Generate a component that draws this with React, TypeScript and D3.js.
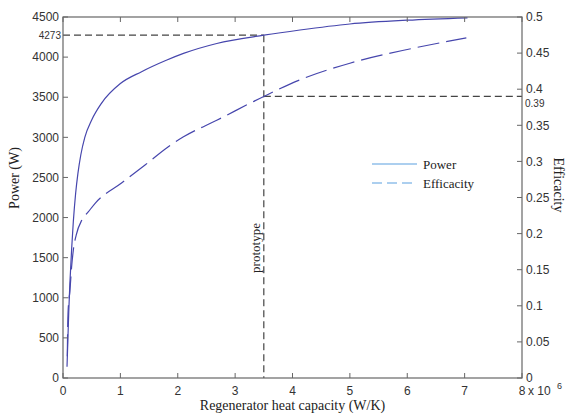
import React from "react";
import * as d3 from "d3";

// Regenerator heat capacity in units of 1e6 W/K
const powerCapacity = [0.07, 0.085, 0.1, 0.12, 0.15, 0.18, 0.22, 0.26, 0.31, 0.38, 0.5, 0.67, 1.0, 1.37, 1.8, 2.1, 2.68, 3.5, 4.13, 5.0, 6.0, 7.05];
const powerValues = [140, 480, 820, 1180, 1600, 1950, 2300, 2550, 2780, 3000, 3216, 3424, 3670, 3818, 3960, 4046, 4170, 4273, 4338, 4413, 4460, 4490];

const effCapacity = [0.075, 0.08, 0.09, 0.12, 0.15, 0.18, 0.23, 0.33, 0.44, 0.56, 1.02, 1.43, 1.83, 2.1, 2.68, 3.5, 4.13, 5.0, 6.0, 7.03];
const effValues = [0.03, 0.062, 0.094, 0.12, 0.154, 0.177, 0.198, 0.219, 0.23, 0.242, 0.27, 0.295, 0.32, 0.334, 0.357, 0.39, 0.413, 0.436, 0.455, 0.471];

const xTicks = [0, 1, 2, 3, 4, 5, 6, 7, 8];
const powerTicks = [0, 500, 1000, 1500, 2000, 2500, 3000, 3500, 4000, 4500];
const effTicks = [0, 0.05, 0.1, 0.15, 0.2, 0.25, 0.3, 0.35, 0.4, 0.45, 0.5];

const prototypeCapacity = 3.5;
const prototypePower = 4273;
const prototypeEff = 0.39;

const legendItems = ["Power", "Efficacity"];

const W = 568;
const H = 417;
const M = { left: 63, right: 522, top: 17, bottom: 378 };

const curveColor = "#4646ad";
const legendColor = "#5b9fe0";
const axisColor = "#666";
const refColor = "#444";
const sans = "'Liberation Sans', Arial, sans-serif";
const serif = "'Liberation Serif', 'Times New Roman', serif";

export default function App() {
  const x = d3.scaleLinear().domain([0, 8]).range([M.left, M.right]);
  const yP = d3.scaleLinear().domain([0, 4500]).range([M.bottom, M.top]);
  const yE = d3.scaleLinear().domain([0, 0.5]).range([M.bottom, M.top]);

  const powerLine = d3
    .line<number>()
    .x((_, i) => x(powerCapacity[i]))
    .y((d) => yP(d))
    .curve(d3.curveMonotoneX);
  const effLine = d3
    .line<number>()
    .x((_, i) => x(effCapacity[i]))
    .y((d) => yE(d))
    .curve(d3.curveMonotoneX);

  const tickLen = 5;
  const legendX = 372;
  const legendY = 164;

  return (
    <svg width={W} height={H} style={{ position: "absolute", left: 0, top: 0, background: "#fff" }}>
      {/* reference lines at the prototype operating point */}
      <g stroke={refColor} strokeWidth={1.2} strokeDasharray="7,4" fill="none">
        <line x1={M.left} x2={x(prototypeCapacity)} y1={yP(prototypePower)} y2={yP(prototypePower)} />
        <line x1={x(prototypeCapacity)} x2={x(prototypeCapacity)} y1={yP(prototypePower)} y2={M.bottom} />
        <line x1={x(prototypeCapacity)} x2={M.right} y1={yE(prototypeEff)} y2={yE(prototypeEff)} />
      </g>
      <text
        transform={`translate(${x(prototypeCapacity) - 4},248) rotate(-90)`}
        textAnchor="middle"
        fontFamily={serif}
        fontSize={13}
        fill="#222"
      >
        prototype
      </text>

      {/* curves */}
      <path d={powerLine(powerValues) ?? ""} fill="none" stroke={curveColor} strokeWidth={1.2} />
      <path d={effLine(effValues) ?? ""} fill="none" stroke={curveColor} strokeWidth={1.2} strokeDasharray="22,7" />

      {/* axes box */}
      <rect x={M.left} y={M.top} width={M.right - M.left} height={M.bottom - M.top} fill="none" stroke={axisColor} strokeWidth={1.2} />

      {/* x ticks */}
      {xTicks.map((t) => (
        <g key={"x" + t}>
          <line x1={x(t)} x2={x(t)} y1={M.bottom} y2={M.bottom - tickLen} stroke={axisColor} />
          <line x1={x(t)} x2={x(t)} y1={M.top} y2={M.top + tickLen} stroke={axisColor} />
          <text x={x(t)} y={M.bottom + 17} textAnchor="middle" fontFamily={sans} fontSize={12} fill="#333">
            {t}
          </text>
        </g>
      ))}
      <text x={x(8) + 6} y={M.bottom + 17} fontFamily={sans} fontSize={12} fill="#333">
        x 10
      </text>
      <text x={x(8) + 35} y={M.bottom + 11} fontFamily={sans} fontSize={9} fill="#333">
        6
      </text>

      {/* left power ticks */}
      {powerTicks.map((t) => (
        <g key={"p" + t}>
          <line x1={M.left} x2={M.left + tickLen} y1={yP(t)} y2={yP(t)} stroke={axisColor} />
          <text x={M.left - 4} y={yP(t)} dy="0.35em" textAnchor="end" fontFamily={sans} fontSize={12} fill="#333">
            {t}
          </text>
        </g>
      ))}
      <text x={M.left - 2} y={yP(prototypePower)} dy="0.35em" textAnchor="end" fontFamily={sans} fontSize={10} fill="#333">
        {prototypePower}
      </text>

      {/* right efficacity ticks */}
      {effTicks.map((t) => (
        <g key={"e" + t}>
          <line x1={M.right} x2={M.right - tickLen} y1={yE(t)} y2={yE(t)} stroke={axisColor} />
          <text x={M.right + 4} y={yE(t)} dy="0.35em" fontFamily={sans} fontSize={12} fill="#333">
            {t}
          </text>
        </g>
      ))}
      <text x={M.right + 3} y={yE(prototypeEff) + 7} dy="0.35em" fontFamily={sans} fontSize={10} fill="#333">
        {prototypeEff}
      </text>

      {/* axis titles */}
      <text x={(M.left + M.right) / 2} y={410} textAnchor="middle" fontFamily={serif} fontSize={14} fill="#222">
        Regenerator heat capacity (W/K)
      </text>
      <text transform="translate(19,178) rotate(-90)" textAnchor="middle" fontFamily={serif} fontSize={14} fill="#222">
        Power (W)
      </text>
      <text transform="translate(554,185) rotate(90)" textAnchor="middle" fontFamily={serif} fontSize={14} fill="#222">
        Efficacity
      </text>

      {/* legend */}
      {legendItems.map((name, i) => (
        <g key={name}>
          <line
            x1={legendX}
            x2={legendX + 45}
            y1={legendY + i * 19}
            y2={legendY + i * 19}
            stroke={legendColor}
            strokeWidth={1.2}
            strokeDasharray={i === 1 ? "10,5" : undefined}
          />
          <text x={legendX + 51} y={legendY + i * 19} dy="0.35em" fontFamily={serif} fontSize={13} fill="#222">
            {name}
          </text>
        </g>
      ))}
    </svg>
  );
}
